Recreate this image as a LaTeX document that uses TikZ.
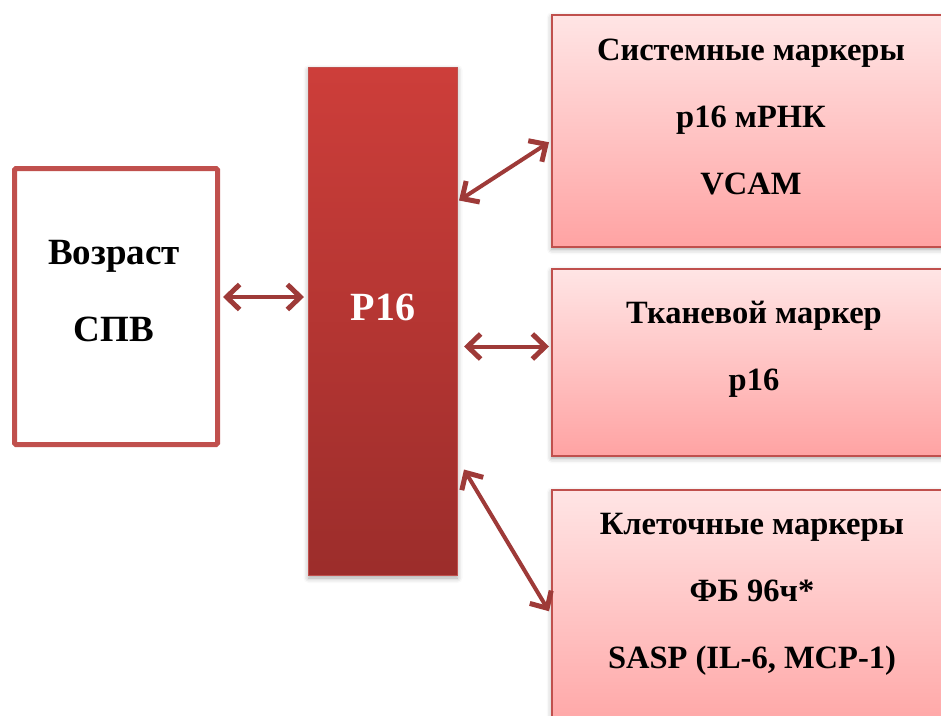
\documentclass[tikz,border=0pt]{standalone}
\usepackage{fontspec}
\setmainfont{Liberation Serif}
\usetikzlibrary{arrows.meta,shadows.blur,calc}

\definecolor{edgered}{RGB}{192,80,77}
\definecolor{arrowred}{RGB}{158,58,56}
\definecolor{bartop}{RGB}{205,62,58}
\definecolor{barbot}{RGB}{156,45,43}
\definecolor{pinktop}{RGB}{255,229,229}
\definecolor{pinkbot}{RGB}{255,163,163}

\tikzset{
  softshadow/.style={blur shadow={shadow xshift=0pt, shadow yshift=-2.5pt,
      shadow blur radius=5pt, shadow opacity=35}},
  agebox/.style={draw=edgered, line width=5pt, rounded corners=1.5pt,
      fill=white, anchor=north west, inner sep=0pt},
  barbox/.style={top color=bartop, bottom color=barbot, draw=edgered,
      line width=1pt, anchor=north west, inner sep=0pt, softshadow},
  markerbox/.style={top color=pinktop, bottom color=pinkbot, draw=edgered,
      line width=1.5pt, anchor=north west, inner sep=0pt, softshadow},
  boxtext/.style={align=center, inner sep=0pt,
      font=\fontsize{32.5}{67}\selectfont\bfseries},
  agetext/.style={align=center, inner sep=0pt,
      font=\fontsize{37}{77}\selectfont\bfseries},
  bartext/.style={inner sep=0pt, text=white,
      font=\fontsize{40}{44}\selectfont\bfseries},
  barb/.tip={Straight Barb[length=13pt,width=25pt,line width=5pt]},
  link/.style={draw=arrowred, line width=4pt, barb-barb}
}

\begin{document}
\begin{tikzpicture}[x=1pt,y=-1pt]
  \useasboundingbox (0,0) rectangle (941,715);
  \clip (0,0) rectangle (941,715);

  % left block: age
  \node[agebox, minimum width=203pt, minimum height=276pt] (age) at (12,166) {};
  \node[agetext] (agetxt) at (114,291) {Возраст\\СПВ};

  % central bar
  \node[barbox, minimum width=149pt, minimum height=508pt] (bar) at (308,67) {};
  \node[bartext] (bartxt) at (383,307) {P16};

  % marker blocks on the right
  \node[markerbox, minimum width=402pt, minimum height=232pt] (sys) at (551,14) {};
  \node[boxtext] (systxt) at (751,117) {Системные маркеры\\p16 мРНК\\VCAM};

  \node[markerbox, minimum width=402pt, minimum height=187pt] (tis) at (551,268) {};
  \node[boxtext] (tistxt) at (754,349) {Тканевой маркер\\p16};

  \node[markerbox, minimum width=402pt, minimum height=250pt] (cel) at (551,489) {};
  \node[boxtext] (celtxt) at (752,594) {Клеточные маркеры\\ФБ 96ч*\\SASP (IL-6, MCP-1)};

  % two-way links
  \draw[link] ([xshift=3pt,yshift=9.5pt]age.east) -- ([xshift=-4pt,yshift=9.5pt]age.east -| bar.west);
  \draw[link] ([xshift=1pt,yshift=121pt]bar.east) -- ([xshift=-2pt,yshift=-11.5pt]sys.west);
  \draw[link] ([xshift=6pt,yshift=-25pt]bar.east) -- ([xshift=-2pt,yshift=-25pt]bar.east -| tis.west);
  \draw[link] ([xshift=6pt,yshift=-148pt]bar.east) -- ([xshift=-2pt,yshift=3.5pt]cel.west);
\end{tikzpicture}
\end{document}
